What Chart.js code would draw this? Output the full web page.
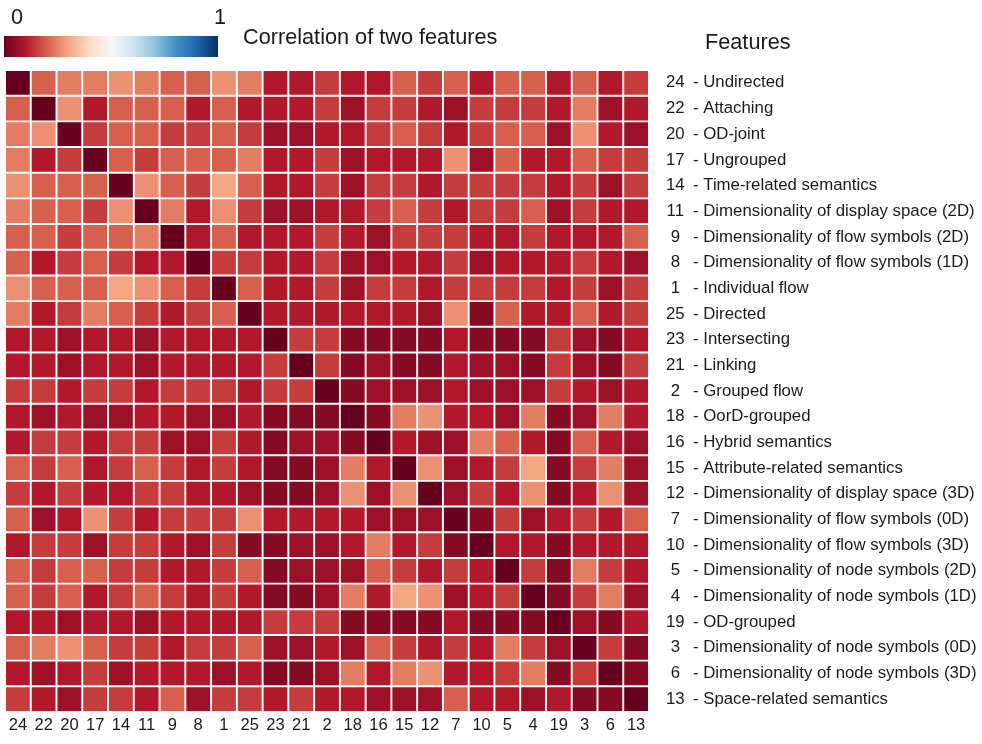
<!DOCTYPE html>
<html>
<head>
<meta charset="utf-8">
<title>Correlation of two features</title>
<script src="https://cdn.jsdelivr.net/npm/chart.js@4.4.1/dist/chart.umd.min.js"></script>
<style>
  html, body { margin: 0; padding: 0; background: #fff; }
</style>
</head>
<body>
<canvas id="heatmap" width="982" height="744"></canvas>
<script>
// feature ids in display order (rows top->bottom, columns left->right)
const featureIds = ['24', '22', '20', '17', '14', '11', '9', '8', '1', '25', '23', '21', '2',
  '18', '16', '15', '12', '7', '10', '5', '4', '19', '3', '6', '13'];

const featureNames = [
  'Undirected', 'Attaching', 'OD-joint', 'Ungrouped', 'Time-related semantics',
  'Dimensionality of display space (2D)', 'Dimensionality of flow symbols (2D)',
  'Dimensionality of flow symbols (1D)', 'Individual flow', 'Directed', 'Intersecting',
  'Linking', 'Grouped flow', 'OorD-grouped', 'Hybrid semantics', 'Attribute-related semantics',
  'Dimensionality of display space (3D)', 'Dimensionality of flow symbols (0D)',
  'Dimensionality of flow symbols (3D)', 'Dimensionality of node symbols (2D)',
  'Dimensionality of node symbols (1D)', 'OD-grouped', 'Dimensionality of node symbols (0D)',
  'Dimensionality of node symbols (3D)', 'Space-related semantics'
];

// values (0 = dark red, 1 = dark blue)
const corr = [
  [0, .20, .24, .24, .27, .24, .20, .20, .27, .24, .10, .10, .15, .10, .10, .20, .15, .20, .10, .20, .20, .10, .20, .10, .15],
  [.20, 0, .27, .10, .20, .20, .20, .10, .20, .10, .10, .10, .15, .07, .15, .15, .10, .07, .15, .15, .15, .10, .24, .07, .10],
  [.24, .27, 0, .15, .20, .20, .15, .15, .20, .15, .07, .07, .10, .10, .15, .20, .15, .10, .15, .20, .20, .07, .27, .10, .07],
  [.24, .10, .15, 0, .20, .15, .20, .20, .20, .24, .10, .10, .15, .07, .10, .10, .10, .27, .07, .20, .10, .10, .20, .15, .15],
  [.27, .20, .20, .20, 0, .27, .20, .15, .30, .20, .10, .10, .15, .07, .15, .15, .10, .15, .15, .15, .15, .10, .15, .07, .15],
  [.24, .20, .20, .15, .27, 0, .24, .10, .27, .15, .07, .07, .10, .10, .15, .20, .15, .10, .15, .15, .20, .07, .15, .10, .10],
  [.20, .20, .15, .20, .20, .24, 0, .10, .20, .10, .10, .10, .15, .10, .07, .15, .15, .15, .10, .10, .15, .10, .10, .10, .20],
  [.20, .10, .15, .20, .15, .10, .10, 0, .15, .15, .10, .10, .15, .07, .07, .10, .10, .15, .07, .10, .10, .10, .15, .10, .07],
  [.27, .20, .20, .20, .30, .27, .20, .15, 0, .20, .10, .10, .15, .07, .15, .15, .10, .15, .15, .15, .15, .10, .15, .07, .15],
  [.24, .10, .15, .24, .20, .15, .10, .15, .20, 0, .10, .10, .10, .10, .10, .10, .07, .27, .04, .20, .10, .10, .20, .10, .15],
  [.10, .10, .07, .10, .10, .07, .10, .10, .10, .10, 0, .15, .15, .04, .04, .04, .04, .10, .04, .04, .04, .15, .07, .04, .10],
  [.10, .10, .07, .10, .10, .07, .10, .10, .10, .10, .15, 0, .15, .04, .07, .04, .04, .10, .07, .07, .04, .15, .07, .04, .15],
  [.15, .15, .10, .15, .15, .10, .15, .15, .15, .10, .15, .15, 0, .04, .07, .07, .07, .10, .07, .07, .07, .15, .10, .07, .10],
  [.10, .07, .10, .07, .07, .10, .10, .07, .07, .10, .04, .04, .04, 0, .04, .24, .27, .10, .10, .07, .24, .04, .07, .24, .10],
  [.10, .15, .15, .10, .15, .15, .07, .07, .15, .10, .04, .07, .07, .04, 0, .10, .07, .07, .24, .20, .10, .04, .20, .10, .07],
  [.20, .15, .20, .10, .15, .20, .15, .10, .15, .10, .04, .04, .07, .24, .10, 0, .27, .07, .10, .15, .30, .04, .15, .24, .07],
  [.15, .10, .15, .10, .10, .15, .15, .10, .10, .07, .04, .04, .07, .27, .07, .27, 0, .07, .15, .10, .27, .04, .10, .27, .07],
  [.20, .07, .10, .27, .15, .10, .15, .15, .15, .27, .10, .10, .10, .10, .07, .07, .07, 0, .04, .15, .07, .10, .15, .10, .20],
  [.10, .15, .15, .07, .15, .15, .10, .07, .15, .04, .04, .07, .07, .10, .24, .10, .15, .04, 0, .10, .10, .04, .10, .10, .10],
  [.20, .15, .20, .20, .15, .15, .10, .10, .15, .20, .04, .07, .07, .07, .20, .15, .10, .15, .10, 0, .15, .04, .24, .15, .10],
  [.20, .15, .20, .10, .15, .20, .15, .10, .15, .10, .04, .04, .07, .24, .10, .30, .27, .07, .10, .15, 0, .04, .15, .24, .07],
  [.10, .10, .07, .10, .10, .07, .10, .10, .10, .10, .15, .15, .15, .04, .04, .04, .04, .10, .04, .04, .04, 0, .07, .04, .10],
  [.20, .24, .27, .20, .15, .15, .10, .15, .15, .20, .07, .07, .10, .07, .20, .15, .10, .15, .10, .24, .15, .07, 0, .15, .04],
  [.10, .07, .10, .15, .07, .10, .10, .10, .07, .10, .04, .04, .07, .24, .10, .24, .27, .10, .10, .15, .24, .04, .15, 0, .04],
  [.15, .10, .07, .15, .15, .10, .20, .07, .15, .15, .10, .15, .10, .10, .07, .07, .07, .20, .10, .10, .07, .10, .04, .04, 0]
];

const colorTicks = ['0', '1'];
const colorbarTitle = 'Correlation of two features';
const namesTitle = 'Features';

// RdBu colour map
const rdbuStops = [
  [0.0, '#67001f'], [0.1, '#b2182b'], [0.2, '#d6604d'], [0.3, '#f4a582'],
  [0.4, '#fddbc7'], [0.5, '#f7f7f7'], [0.6, '#d1e5f0'], [0.7, '#92c5de'],
  [0.8, '#4393c3'], [0.9, '#2166ac'], [1.0, '#053061']
];

function hexToRgb(h) {
  return [parseInt(h.slice(1, 3), 16), parseInt(h.slice(3, 5), 16), parseInt(h.slice(5, 7), 16)];
}

function rdbu(v) {
  v = Math.max(0, Math.min(1, v));
  for (let i = 1; i < rdbuStops.length; i++) {
    const [t1, c1] = rdbuStops[i];
    if (v <= t1) {
      const [t0, c0] = rdbuStops[i - 1];
      const f = (v - t0) / (t1 - t0);
      const a = hexToRgb(c0), b = hexToRgb(c1);
      const c = a.map((x, k) => Math.round(x + (b[k] - x) * f));
      return 'rgb(' + c.join(',') + ')';
    }
  }
  return rdbuStops[rdbuStops.length - 1][1];
}

const FONT = '"Liberation Sans", Arial, Helvetica, sans-serif';
const TEXT = '#1a1a1a';

// colour bar and headings
const headerPlugin = {
  id: 'header',
  afterDraw(chart) {
    const ctx = chart.ctx;
    ctx.save();
    const g = ctx.createLinearGradient(4, 0, 218, 0);
    rdbuStops.forEach(([t, c]) => g.addColorStop(t, c));
    ctx.fillStyle = g;
    ctx.fillRect(4, 36, 214, 21);
    ctx.font = '21.7px ' + FONT;
    ctx.fillStyle = TEXT;
    ctx.textBaseline = 'middle';
    ctx.textAlign = 'center';
    ctx.fillText(colorTicks[0], 17, 18);
    ctx.fillText(colorTicks[1], 220, 18);
    ctx.textAlign = 'left';
    ctx.fillText(colorbarTitle, 243, 38);
    ctx.fillText(namesTitle, 705, 43);
    ctx.restore();
  }
};

const datasets = corr.map((row, r) => ({
  label: featureIds[r],
  data: row.map(() => [r, r + 1]),
  backgroundColor: row.map(v => rdbu(v)),
  borderColor: '#ffffff',
  borderWidth: 1.3,
  borderSkipped: false,
  grouped: false,
  barPercentage: 1,
  categoryPercentage: 1
}));

const noGrid = { display: false, drawTicks: false };

new Chart(document.getElementById('heatmap'), {
  type: 'bar',
  data: { labels: featureIds, datasets: datasets },
  plugins: [headerPlugin],
  options: {
    responsive: false,
    animation: false,
    layout: { padding: { top: 70, left: 5, right: 0, bottom: 0 } },
    plugins: { legend: { display: false }, tooltip: { enabled: false } },
    scales: {
      x: {
        type: 'category',
        position: 'bottom',
        offset: true,
        grid: noGrid,
        border: { display: false },
        ticks: { color: TEXT, font: { family: FONT, size: 16.5 }, padding: 4, autoSkip: false, maxRotation: 0 },
        afterFit(s) { s.height = 32; }
      },
      y: { type: 'linear', min: 0, max: 25, reverse: true, display: false },
      yNum: {
        type: 'category',
        labels: featureIds,
        position: 'right',
        offset: true,
        weight: 0,
        grid: noGrid,
        border: { display: false },
        ticks: { color: TEXT, font: { family: FONT, size: 16.8 }, crossAlign: 'center', padding: 17, autoSkip: false },
        afterFit(s) { s.width = 44; }
      },
      yName: {
        type: 'category',
        labels: featureNames.map(n => '- ' + n),
        position: 'right',
        offset: true,
        weight: 1,
        grid: noGrid,
        border: { display: false },
        ticks: { color: TEXT, font: { family: FONT, size: 16.8 }, crossAlign: 'near', padding: 0, autoSkip: false },
        afterFit(s) { s.width = 289; }
      }
    }
  }
});
</script>
</body>
</html>
